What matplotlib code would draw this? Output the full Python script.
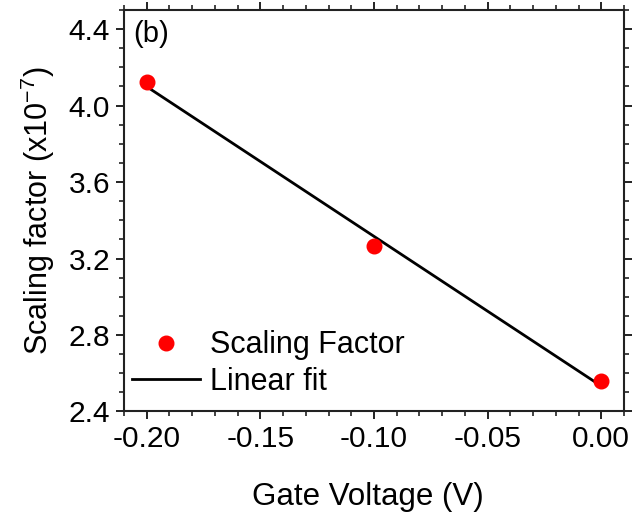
import numpy as np
import matplotlib
matplotlib.use("Agg")
import matplotlib.pyplot as plt
from matplotlib.ticker import MultipleLocator, FormatStrFormatter

plt.rcParams['font.family'] = ['Liberation Sans', 'DejaVu Sans']
plt.rcParams['mathtext.fontset'] = 'custom'
plt.rcParams['mathtext.rm'] = 'Liberation Sans'
plt.rcParams['mathtext.it'] = 'Liberation Sans:italic'

# Measured scaling factor (units of 1e-7) versus gate voltage
gate_voltage = [-0.20, -0.10, 0.00]
scaling_factor = [4.124, 3.266, 2.558]

fig = plt.figure(figsize=(6.34, 5.13), dpi=100)
ax = fig.add_axes([0.1956, 0.1979, 0.7886, 0.7826])

# Least-squares line through the measurements
slope, intercept = np.polyfit(gate_voltage, scaling_factor, 1)
fit_x = np.array([gate_voltage[0], gate_voltage[-1]])
fit_y = slope * fit_x + intercept

ax.plot(gate_voltage, scaling_factor, 'o', color='#ff0000', markersize=10.5,
        label='Scaling Factor', zorder=3)
ax.plot(fit_x, fit_y, '-', color='black', linewidth=2.0, label='Linear fit',
        zorder=2)

ax.set_xlim(-0.21, 0.01)
ax.set_ylim(2.4, 4.5)
ax.xaxis.set_major_locator(MultipleLocator(0.05))
ax.xaxis.set_minor_locator(MultipleLocator(0.01))
ax.yaxis.set_major_locator(MultipleLocator(0.4))
ax.yaxis.set_minor_locator(MultipleLocator(0.1))
ax.xaxis.set_major_formatter(FormatStrFormatter('%.2f'))
ax.yaxis.set_major_formatter(FormatStrFormatter('%.1f'))

for s in ax.spines.values():
    s.set_linewidth(1.5)
    s.set_color('#222222')
ax.tick_params(which='both', direction='out', top=True, right=True,
               labeltop=False, labelright=False, color='#222222')
ax.tick_params(which='major', length=6, width=1.4, labelsize=21.5, pad=4)
ax.tick_params(which='minor', length=3.5, width=1.2)

ax.set_xlabel('Gate Voltage (V)', fontsize=22.5)
ax.xaxis.set_label_coords(0.487, -0.175)
ax.set_ylabel('Scaling factor (x10$^{-7}$)', fontsize=22, labelpad=8)

ax.text(0.018, 0.975, '(b)', transform=ax.transAxes, fontsize=21,
        ha='left', va='top')

ax.legend(loc='lower left', bbox_to_anchor=(0.016, 0.036), frameon=False,
          fontsize=22, handlelength=2.22, handletextpad=0.33, labelspacing=0.22,
          borderpad=0, borderaxespad=0, numpoints=1)

fig.savefig('out.png', dpi=100)
